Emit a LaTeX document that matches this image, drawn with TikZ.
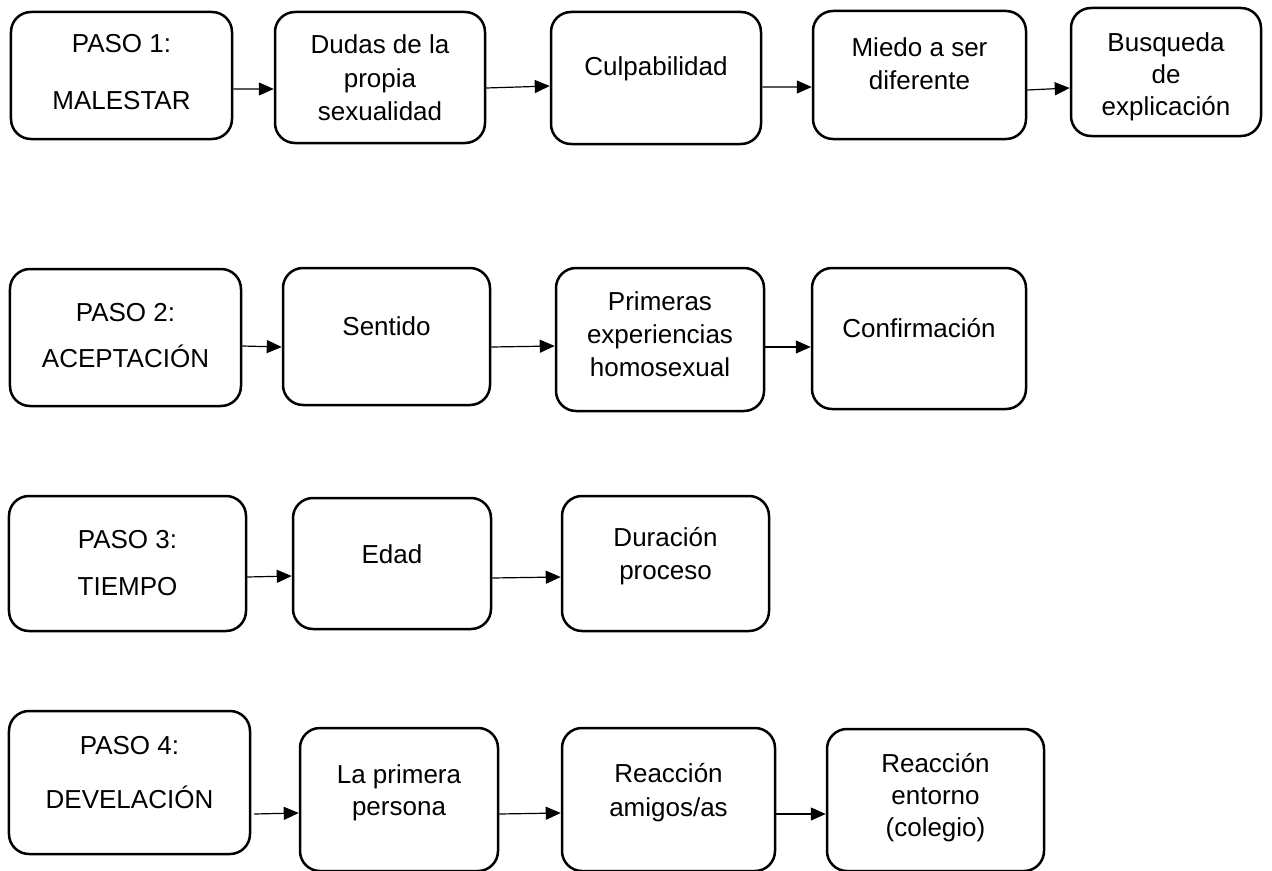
\documentclass[tikz,border=0pt]{standalone}
\usepackage{fontspec}
\setmainfont{Liberation Sans}
\usetikzlibrary{arrows.meta}
\tikzset{
  stepbox/.style={draw=black, line width=2.5bp, rounded corners=20bp, fill=white, inner sep=0pt},
  txt/.style={anchor=base, inner sep=0pt, font=\fontsize{26bp}{34bp}\selectfont},
  arr/.style={line width=1.2bp, -{Triangle[length=15bp,width=13bp]}}
}
\begin{document}
\begin{tikzpicture}[x=1bp,y=-1bp]
\useasboundingbox (0,0) rectangle (1272,871);
\fill[white] (0,0) rectangle (1272,871);
% Row 1
\node[stepbox, minimum width=221bp, minimum height=127bp] (b11) at (121.5,75.5) {};
\node[stepbox, minimum width=210bp, minimum height=131bp] (b12) at (380,77.5) {};
\node[stepbox, minimum width=210bp, minimum height=132bp] (b13) at (656,78) {};
\node[stepbox, minimum width=213bp, minimum height=128bp] (b14) at (919.5,75) {};
\node[stepbox, minimum width=190bp, minimum height=128bp] (b15) at (1166,72) {};
% Row 2
\node[stepbox, minimum width=231bp, minimum height=137bp] (b21) at (125.5,337.5) {};
\node[stepbox, minimum width=207bp, minimum height=137bp] (b22) at (386.5,336.5) {};
\node[stepbox, minimum width=208bp, minimum height=143bp] (b23) at (660,339.5) {};
\node[stepbox, minimum width=214bp, minimum height=141bp] (b24) at (919,338.5) {};
% Row 3
\node[stepbox, minimum width=237bp, minimum height=135bp] (b31) at (127.5,563.5) {};
\node[stepbox, minimum width=198bp, minimum height=131bp] (b32) at (392,563.5) {};
\node[stepbox, minimum width=207bp, minimum height=135bp] (b33) at (665.5,563.5) {};
% Row 4
\node[stepbox, minimum width=241bp, minimum height=143bp] (b41) at (129.5,782.5) {};
\node[stepbox, minimum width=198bp, minimum height=143bp] (b42) at (399,799.5) {};
\node[stepbox, minimum width=213bp, minimum height=143bp] (b43) at (668.5,799.5) {};
\node[stepbox, minimum width=217bp, minimum height=142bp] (b44) at (935.5,800) {};

% Texts row 1
\node[txt] (t11a) at (121.5,52) {PASO 1:};
\node[txt] (t11b) at (121.5,109) {MALESTAR};
\node[txt] (t12a) at (380,53) {Dudas de la};
\node[txt] (t12b) at (380,87) {propia};
\node[txt] (t12c) at (380,120) {sexualidad};
\node[txt] (t13a) at (656,75) {Culpabilidad};
\node[txt] (t14a) at (919.5,56) {Miedo a ser};
\node[txt] (t14b) at (919.5,89) {diferente};
\node[txt] (t15a) at (1166,51) {Busqueda};
\node[txt] (t15b) at (1166,83) {de};
\node[txt] (t15c) at (1166,115) {explicación};
% Texts row 2
\node[txt] (t21a) at (125.5,321) {PASO 2:};
\node[txt] (t21b) at (125.5,367) {ACEPTACIÓN};
\node[txt] (t22a) at (386.5,335) {Sentido};
\node[txt] (t23a) at (660,310) {Primeras};
\node[txt] (t23b) at (660,343) {experiencias};
\node[txt] (t23c) at (660,376) {homosexual};
\node[txt] (t24a) at (919,337) {Confirmación};
% Texts row 3
\node[txt] (t31a) at (127.5,548) {PASO 3:};
\node[txt] (t31b) at (127.5,595) {TIEMPO};
\node[txt] (t32a) at (392,563) {Edad};
\node[txt] (t33a) at (665.5,546) {Duración};
\node[txt] (t33b) at (665.5,579) {proceso};
% Texts row 4
\node[txt] (t41a) at (129.5,754) {PASO 4:};
\node[txt] (t41b) at (129.5,808) {DEVELACIÓN};
\node[txt] (t42a) at (399,783) {La primera};
\node[txt] (t42b) at (399,815) {persona};
\node[txt] (t43a) at (668.5,782) {Reacción};
\node[txt] (t43b) at (668.5,816) {amigos/as};
\node[txt] (t44a) at (935.5,772) {Reacción};
\node[txt] (t44b) at (935.5,804) {entorno};
\node[txt] (t44c) at (935.5,836) {(colegio)};

% Arrows
\draw[arr] ([yshift=-13.5bp]b11.east) -- ([yshift=-11.5bp]b12.west);
\draw[arr] ([yshift=-10.5bp]b12.east) -- ([yshift=-8bp]b13.west);
\draw[arr] ([yshift=-9bp]b13.east) -- ([yshift=-12bp]b14.west);
\draw[arr] ([yshift=-15bp]b14.east) -- ([yshift=-16bp]b15.west);
\draw[arr] ([yshift=-8.5bp]b21.east) -- ([yshift=-10.5bp]b22.west);
\draw[arr] ([yshift=-10.5bp]b22.east) -- ([yshift=-6.5bp]b23.west);
\draw[arr] ([yshift=-7.5bp]b23.east) -- ([yshift=-8.5bp]b24.west);
\draw[arr] ([yshift=-13.5bp]b31.east) -- ([yshift=-12.5bp]b32.west);
\draw[arr] ([yshift=-14.5bp]b32.east) -- ([yshift=-13.5bp]b33.west);
\draw[arr] ([xshift=3bp,yshift=-31.5bp]b41.east) -- ([yshift=-13.5bp]b42.west);
\draw[arr] ([yshift=-14.5bp]b42.east) -- ([yshift=-13.5bp]b43.west);
\draw[arr] ([yshift=-14.5bp]b43.east) -- ([yshift=-14bp]b44.west);
\end{tikzpicture}
\end{document}
